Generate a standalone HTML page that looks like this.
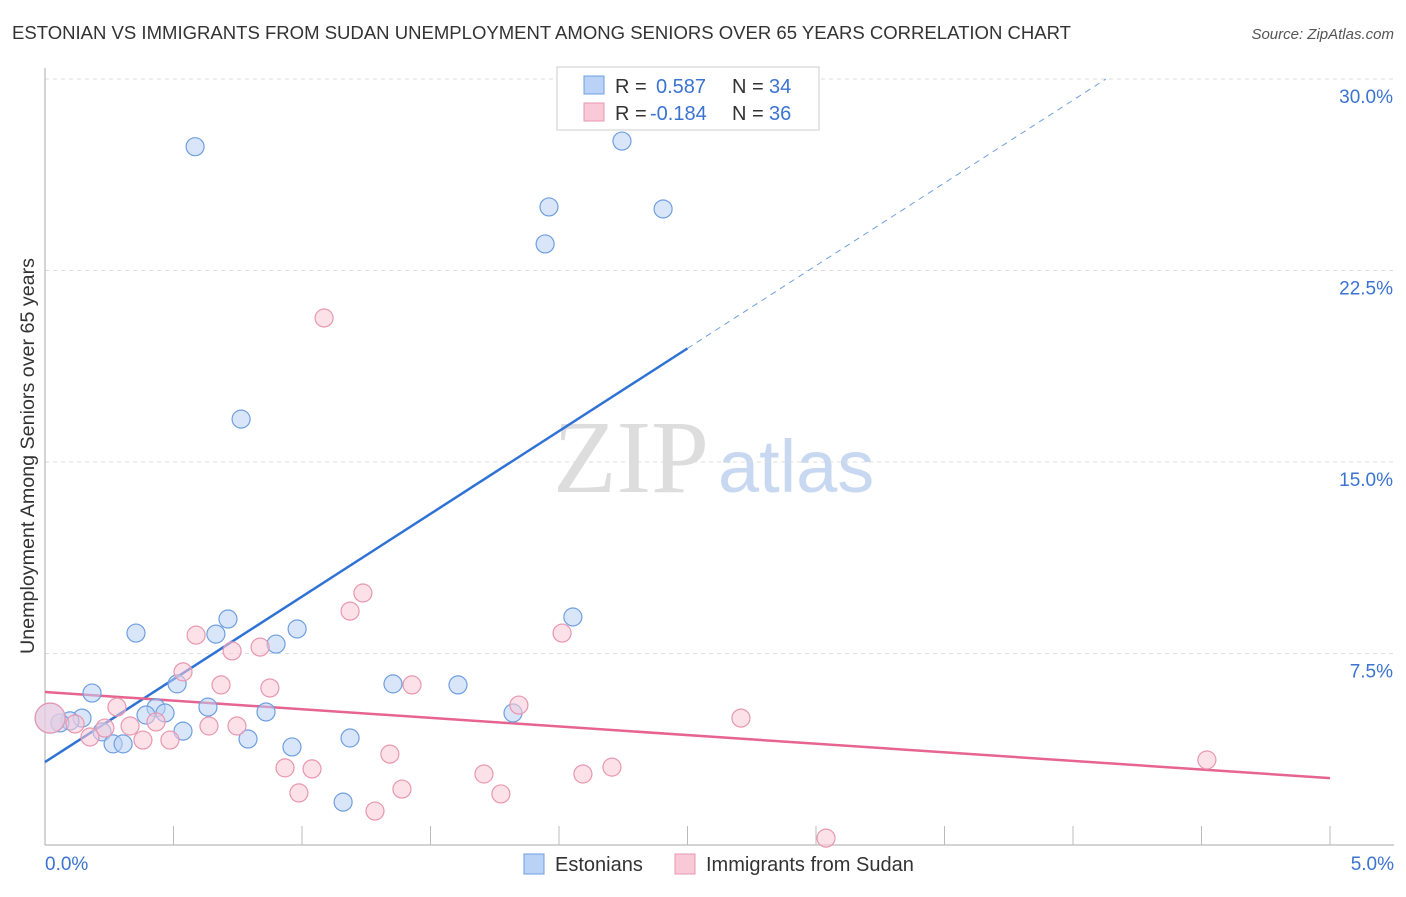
<!DOCTYPE html>
<html><head><meta charset="utf-8"><style>
body{margin:0;background:#fff;font-family:"Liberation Sans",sans-serif;}
</style></head><body>
<svg id="chart" width="1406" height="892" xmlns="http://www.w3.org/2000/svg">
<text x="12" y="39" font-size="18" fill="#333" textLength="1059" lengthAdjust="spacingAndGlyphs">ESTONIAN VS IMMIGRANTS FROM SUDAN UNEMPLOYMENT AMONG SENIORS OVER 65 YEARS CORRELATION CHART</text>
<text x="1394" y="39" font-size="15" fill="#555" text-anchor="end" font-style="italic">Source: ZipAtlas.com</text>
<text x="34" y="456" font-size="19" fill="#333" text-anchor="middle" textLength="396" lengthAdjust="spacingAndGlyphs" transform="rotate(-90 34 456)">Unemployment Among Seniors over 65 years</text>
<text x="553" y="492" font-size="104" fill="#ddd" font-family="Liberation Serif,serif">ZIP</text>
<text x="718" y="492" font-size="74" fill="#c8d8f0">atlas</text>
<g id="grid"></g><g id="trend"></g><g id="pts"></g>
<g>
<rect x="557" y="67" width="262" height="63" fill="#fff" stroke="#ccc"/>
<rect x="584" y="76" width="20" height="18" fill="#b9d2f5" stroke="#6f9fe0"/>
<text x="615" y="93" font-size="20" fill="#333">R = </text><text x="656" y="93" font-size="20" fill="#3b73d1">0.587</text>
<text x="732" y="93" font-size="20" fill="#333">N = </text><text x="769" y="93" font-size="20" fill="#3b73d1">34</text>
<rect x="584" y="103" width="20" height="18" fill="#f9c9d7" stroke="#e897b0"/>
<text x="615" y="120" font-size="20" fill="#333">R = </text><text x="650" y="120" font-size="20" fill="#3b73d1">-0.184</text>
<text x="732" y="120" font-size="20" fill="#333">N = </text><text x="769" y="120" font-size="20" fill="#3b73d1">36</text>
</g>
<g>
<rect x="524" y="854" width="20" height="20" fill="#b9d2f5" stroke="#6f9fe0"/>
<text x="555" y="871" font-size="20" fill="#333">Estonians</text>
<rect x="675" y="854" width="20" height="20" fill="#f9c9d7" stroke="#e897b0"/>
<text x="706" y="871" font-size="20" fill="#333">Immigrants from Sudan</text>
</g>
</svg>
<script>
const xTicks=[0,5];
const yTicks=[7.5,15,22.5,30];
const blueX=[0.584,2.245,1.961,2.405,1.946,0.763,2.054,0.354,0.712,0.665,0.981,0.899,0.183,0.514,1.354,1.607,0.634,0.432,0.467,0.393,0.860,1.821,0.144,0.097,0.058,0.222,0.537,0.265,0.304,0.790,0.961,1.187,1.160,0.02];
const blueY=[27.35,27.57,24.99,24.91,23.54,16.68,8.93,8.30,8.85,8.26,8.46,7.87,5.95,6.31,6.31,6.27,5.40,5.37,5.17,5.09,5.21,5.17,4.97,4.86,4.78,4.43,4.46,3.96,3.96,4.15,3.84,4.19,1.68,4.97];
const pinkX=[1.086,1.237,1.187,2.012,0.588,0.728,0.837,0.537,0.685,0.875,1.428,1.844,2.708,0.280,0.747,0.638,0.331,0.432,0.233,0.175,0.381,0.486,1.342,0.934,1.039,1.708,2.093,2.206,4.521,0.988,1.389,1.774,1.284,3.039,0.02,0.117];
const pinkY=[20.64,9.87,9.16,8.30,8.22,7.60,7.75,6.78,6.27,6.15,6.27,5.48,4.97,5.40,4.66,4.66,4.66,4.82,4.58,4.23,4.11,4.11,3.56,3.02,2.98,2.78,2.78,3.05,3.33,2.04,2.19,2.00,1.33,0.27,4.97,4.74];
const blueTrend=[3.25,6.48]; // intercept, slope
const pinkTrend=[5.99,2.62]; // y at 0%, y at 5%
const X=v=>45+v/5*1285, Y=v=>845-v/30*766;
const NS="http://www.w3.org/2000/svg";
function mk(t,a,p){const e=document.createElementNS(NS,t);for(const k in a)e.setAttribute(k,a[k]);p.appendChild(e);return e;}
const g=document.getElementById('grid');
yTicks.forEach(v=>{
 const l=mk('line',{x1:45,x2:1394,y1:Y(v),y2:Y(v),stroke:'#ddd','stroke-dasharray':'4,4'},g);
 
 
 const t=mk('text',{x:1393,y:Y(v)+24,'font-size':19,fill:'#3b73d1','text-anchor':'end'},g);t.textContent=v.toFixed(1)+'%';
 
 
});
mk('line',{x1:45,x2:45,y1:68,y2:845,stroke:'#aaa'},g);
mk('line',{x1:45,x2:1394,y1:845,y2:845,stroke:'#aaa'},g);
for(let i=1;i<=10;i++){mk('line',{x1:X(i/2),x2:X(i/2),y1:826,y2:845,stroke:'#bbb'},g);}
xTicks.forEach((v,i)=>{
 const t=mk('text',{x:i?1394:45,y:870,'font-size':19,fill:'#3b73d1','text-anchor':i?'end':'start'},g);t.textContent=v.toFixed(1)+'%';
 
 
});
const pg=document.getElementById('pts');
function dots(xs,ys,fill,stroke,name){xs.forEach((x,i)=>{
 const c=mk('circle',{cx:X(x),cy:Y(ys[i]),r:(x<0.03?15:9),fill:fill,'fill-opacity':0.55,stroke:stroke,'stroke-width':1.2},pg);
 
 
});}
dots(blueX,blueY,'#b9d2f5','#6f9fe0','estonian-point');
dots(pinkX,pinkY,'#f9c9d7','#e897b0','sudan-point');
const tg=document.getElementById('trend');
const xe=2.5, xd=(30-blueTrend[0])/blueTrend[1];
const b1=mk('line',{x1:X(0),y1:Y(blueTrend[0]),x2:X(xe),y2:Y(blueTrend[0]+blueTrend[1]*xe),stroke:'#2f72d6','stroke-width':2.5},tg);


const b2=mk('line',{x1:X(xe),y1:Y(blueTrend[0]+blueTrend[1]*xe),x2:X(xd),y2:Y(30),stroke:'#6f9fe0','stroke-width':1,'stroke-dasharray':'6,5'},tg);


const p1=mk('line',{x1:X(0),y1:Y(pinkTrend[0]),x2:X(5),y2:Y(pinkTrend[1]),stroke:'#e6648f','stroke-width':2.5},tg);


</script>
</body></html>
